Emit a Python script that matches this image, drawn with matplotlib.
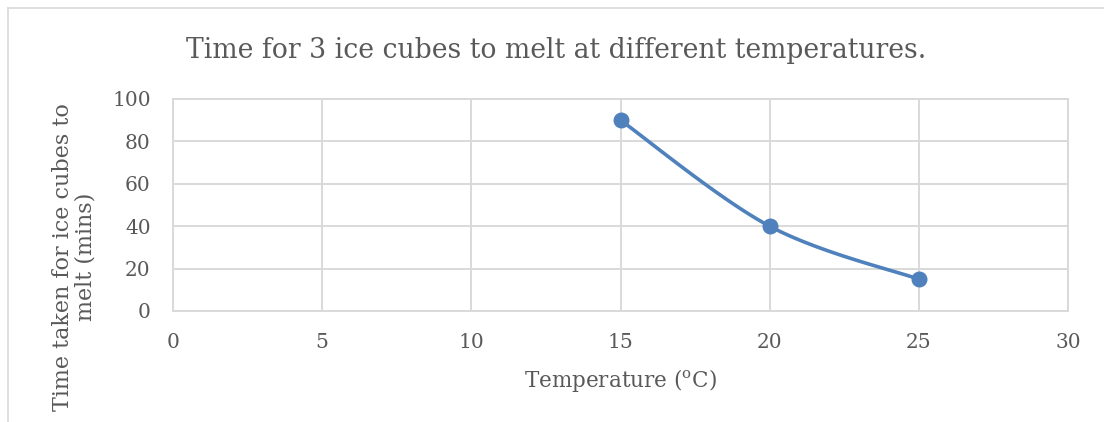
import numpy as np
import matplotlib
matplotlib.use("Agg")
import matplotlib.pyplot as plt
from matplotlib.lines import Line2D

temps = [15, 20, 25]
melt_times = [90, 40, 15]
x_ticks = [0, 5, 10, 15, 20, 25, 30]
y_ticks = [0, 20, 40, 60, 80, 100]
title = "Time for 3 ice cubes to melt at different temperatures."
xlabel = "Temperature ($^{\\rm o}$C)"
ylabel = "Time taken for ice cubes to\nmelt (mins)"

plt.rcParams['font.family'] = ['DejaVu Serif']
plt.rcParams['mathtext.fontset'] = 'dejavuserif'

W, H = 1104, 422
fig = plt.figure(figsize=(W / 100, H / 100), dpi=100)
TXT = '#595959'
GRID = '#D9D9D9'
BLUE = '#4F81BD'

# plot area in pixels
L, R, T, B = 173, 1068, 99, 311
ax = fig.add_axes([L / W, 1 - B / H, (R - L) / W, (B - T) / H])
ax.set_xlim(0, 30)
ax.set_ylim(0, 100)
ax.set_xticks(x_ticks)
ax.set_yticks(y_ticks)
ax.grid(True, color=GRID, linewidth=1.4)
ax.set_axisbelow(True)
for s in ax.spines.values():
    s.set_color(GRID)
    s.set_linewidth(1.4)
ax.tick_params(length=0, colors=TXT, labelsize=14.5)
ax.tick_params(axis='x', pad=16)
ax.tick_params(axis='y', pad=16)
for lab in ax.get_xticklabels() + ax.get_yticklabels():
    lab.set_color(TXT)

# Excel-style smoothed line (Bezier, tension 1/6)
P = np.column_stack([temps, melt_times]).astype(float)
n = len(P)
curve = []
for i in range(n - 1):
    p0 = P[i - 1] if i > 0 else P[i]
    p1 = P[i]
    p2 = P[i + 1]
    p3 = P[i + 2] if i + 2 < n else P[i + 1]
    c1 = p1 + (p2 - p0) / 6
    c2 = p2 - (p3 - p1) / 6
    t = np.linspace(0, 1, 60)[:, None]
    seg = (1 - t) ** 3 * p1 + 3 * (1 - t) ** 2 * t * c1 + 3 * (1 - t) * t ** 2 * c2 + t ** 3 * p2
    curve.append(seg)
curve = np.vstack(curve)
ax.plot(curve[:, 0], curve[:, 1], color=BLUE, linewidth=2.6, solid_capstyle='round')
ax.plot(temps, melt_times, 'o', color=BLUE, markersize=10.5)

fig.text(556 / W, 1 - 50 / H, title, ha='center', va='center', fontsize=19.2, color=TXT)
fig.text(620 / W, 1 - 380 / H, xlabel, ha='center', va='center', fontsize=15.5, color=TXT)
fig.text(74 / W, 1 - 257 / H, ylabel, ha='center', va='center', rotation=90,
         fontsize=16, color=TXT, linespacing=1.05)

# outer chart border (cropped)
fig.add_artist(Line2D([8 / W, 8 / W], [0, 1 - 8 / H], transform=fig.transFigure, color=GRID, linewidth=1.2))
fig.add_artist(Line2D([8 / W, 1], [1 - 8 / H, 1 - 8 / H], transform=fig.transFigure, color=GRID, linewidth=1.2))

fig.savefig('out.png', dpi=100, facecolor='white')
